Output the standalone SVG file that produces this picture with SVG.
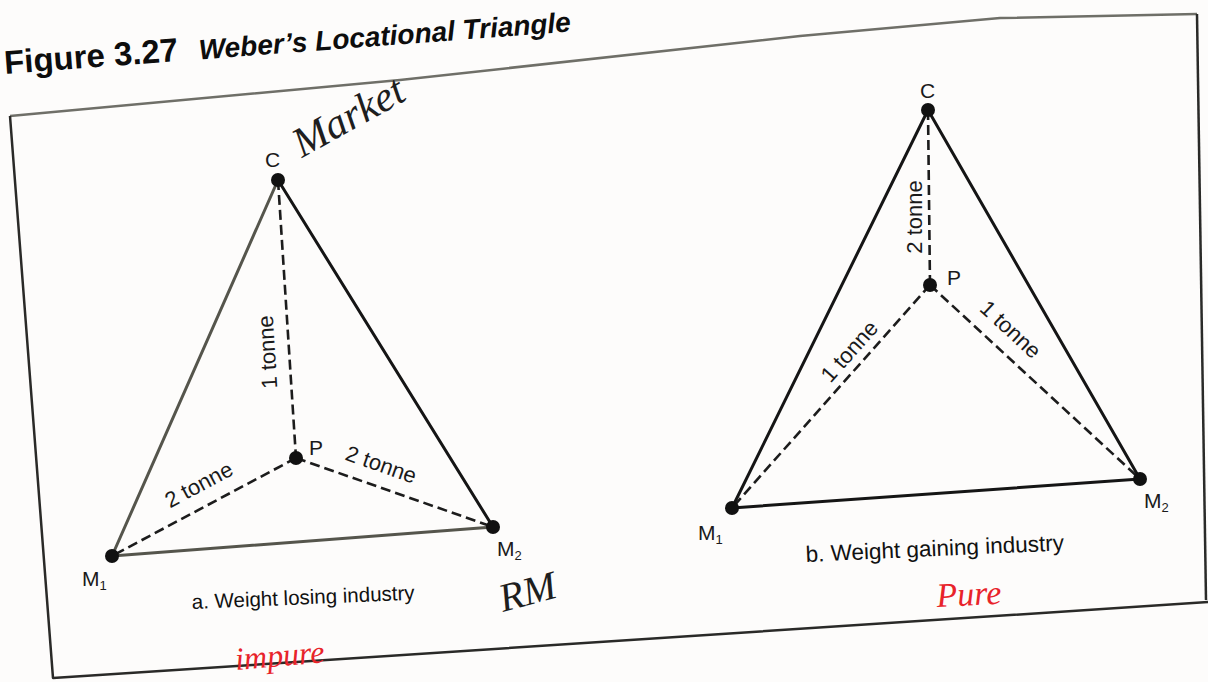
<svg xmlns="http://www.w3.org/2000/svg" width="1208" height="682" viewBox="0 0 1208 682">
  <style>
    .bg { fill: #fdfcfb; }
    .frame { fill: none; stroke: #2a2a28; stroke-width: 2.5; stroke-linejoin: round; }
    .frame-top { fill: none; stroke: #6f6f68; stroke-width: 2.5; }
    .edge { stroke: #151515; stroke-width: 3; fill: none; stroke-linecap: round; }
    .edge-grey { stroke: #55554c; stroke-width: 3; fill: none; stroke-linecap: round; }
    .dash { stroke: #1c1c1c; stroke-width: 2.6; fill: none; stroke-dasharray: 10 5; }
    .dot { fill: #111; }
    .lbl { font-family: "Liberation Sans", Arial, sans-serif; font-size: 21px; fill: #1a1a1a; }
    .sub { font-size: 13px; }
    .tonne { font-family: "Liberation Sans", Arial, sans-serif; font-size: 22px; fill: #1a1a1a; text-anchor: middle; }
    .cap { font-family: "Liberation Sans", Arial, sans-serif; fill: #111; }
    .title { font-family: "Liberation Sans", Arial, sans-serif; font-weight: bold; fill: #0d0d0d; }
    .hand { font-family: "Liberation Serif", "DejaVu Serif", serif; font-style: italic; }
    .ink { fill: #1e1e1e; }
    .red { fill: #e8232a; }
  </style>

  <rect class="bg" x="0" y="0" width="1208" height="682"/>

  <!-- Title -->
  <g id="title" transform="rotate(-4.3 5 74)">
    <text class="title" x="5" y="74" font-size="33">Figure 3.27</text>
    <text class="title" x="200" y="74" font-size="28" font-style="italic">Weber’s Locational Triangle</text>
  </g>

  <!-- Frame -->
  <g id="frame">
    <path class="frame-top" d="M10,116 L400,80 L800,36 L1000,18 L1197,14"/>
    <path class="frame" d="M1197,14 L1206,600"/>
    <path class="frame" d="M10,116 L53,678 L1208,602"/>
  </g>

  <!-- Connectors -->
  <g id="connectors">
    <!-- Triangle a -->
    <line class="edge-grey" x1="278" y1="180" x2="112" y2="556"/>
    <line class="edge" x1="278" y1="180" x2="493" y2="527"/>
    <line class="edge-grey" x1="112" y1="556" x2="493" y2="527"/>
    <line class="dash" x1="278" y1="180" x2="296" y2="458"/>
    <line class="dash" x1="296" y1="458" x2="112" y2="556"/>
    <line class="dash" x1="296" y1="458" x2="493" y2="527"/>
    <!-- Triangle b -->
    <line class="edge" x1="928" y1="110" x2="732" y2="508"/>
    <line class="edge" x1="928" y1="110" x2="1140" y2="479"/>
    <line class="edge" x1="732" y1="508" x2="1140" y2="479"/>
    <line class="dash" x1="928" y1="110" x2="930" y2="285"/>
    <line class="dash" x1="930" y1="285" x2="732" y2="508"/>
    <line class="dash" x1="930" y1="285" x2="1140" y2="479"/>
  </g>

  <!-- Connector labels -->
  <g id="edge-labels">
    <text class="tonne" transform="translate(268,352) rotate(-93.7)" y="7">1 tonne</text>
    <text class="tonne" transform="translate(199,485) rotate(-28)" y="7">2 tonne</text>
    <text class="tonne" transform="translate(381,465) rotate(19.3)" y="7">2 tonne</text>
    <text class="tonne" transform="translate(914,217) rotate(-90)" y="8" font-size="23">2 tonne</text>
    <text class="tonne" transform="translate(849,351) rotate(-48.4)" y="8" font-size="23">1 tonne</text>
    <text class="tonne" transform="translate(1011,329) rotate(42.7)" y="8" font-size="23">1 tonne</text>
  </g>

  <!-- Triangle a nodes -->
  <g id="a-C">
    <circle class="dot" cx="278" cy="180" r="7"/>
    <text class="lbl" x="265" y="167">C</text>
  </g>
  <g id="a-P">
    <circle class="dot" cx="296" cy="458" r="7"/>
    <text class="lbl" x="309" y="455">P</text>
  </g>
  <g id="a-M1">
    <circle class="dot" cx="112" cy="556" r="7"/>
    <text class="lbl" x="82" y="586">M<tspan class="sub" dy="4">1</tspan></text>
  </g>
  <g id="a-M2">
    <circle class="dot" cx="493" cy="527" r="7"/>
    <text class="lbl" x="497" y="556">M<tspan class="sub" dy="4">2</tspan></text>
  </g>

  <!-- Triangle b nodes -->
  <g id="b-C">
    <circle class="dot" cx="928" cy="110" r="7"/>
    <text class="lbl" x="920" y="98">C</text>
  </g>
  <g id="b-P">
    <circle class="dot" cx="930" cy="285" r="7"/>
    <text class="lbl" x="947" y="285">P</text>
  </g>
  <g id="b-M1">
    <circle class="dot" cx="732" cy="508" r="7"/>
    <text class="lbl" x="698" y="540">M<tspan class="sub" dy="4">1</tspan></text>
  </g>
  <g id="b-M2">
    <circle class="dot" cx="1140" cy="479" r="7"/>
    <text class="lbl" x="1144" y="508">M<tspan class="sub" dy="4">2</tspan></text>
  </g>

  <!-- Captions -->
  <g id="captions">
    <text class="cap" font-size="20.5" transform="rotate(-2.4 192 609)" x="192" y="609">a. Weight losing industry</text>
    <text class="cap" font-size="22.5" transform="rotate(-2.6 806 562)" x="806" y="562">b. Weight gaining industry</text>
  </g>

  <!-- Handwritten annotations -->
  <g id="annotations">
    <text class="hand ink" font-size="42" transform="rotate(-29 302 158)" x="302" y="158">Market</text>
    <text class="hand ink" font-size="40" transform="rotate(-15 503 612)" x="503" y="612">RM</text>
    <text class="hand red" font-size="32" transform="rotate(-5 236 670)" x="236" y="670">impure</text>
    <text class="hand red" font-size="34" transform="rotate(-3 937 607)" x="937" y="607">Pure</text>
  </g>
</svg>
